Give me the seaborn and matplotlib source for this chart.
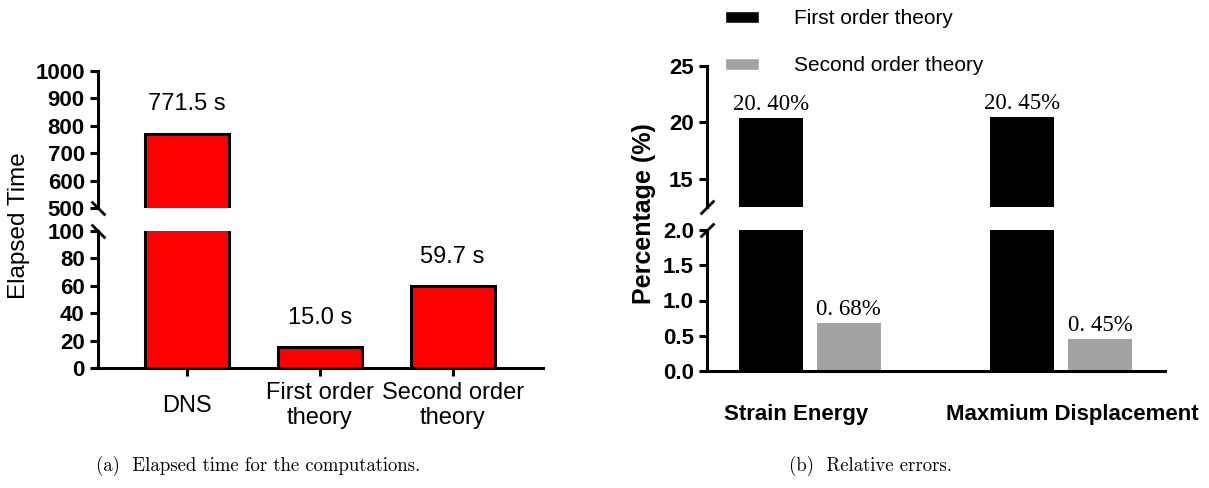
import numpy as np
import pandas as pd
import matplotlib
matplotlib.use("Agg")
import matplotlib.pyplot as plt
import seaborn as sns
from matplotlib.patches import Patch

# -------------------------------------------------------
# DATA
# -------------------------------------------------------

methods = ["DNS", "First order\ntheory", "Second order\ntheory"]
elapsed = [771.5, 15.0, 59.7]
elapsed_labels = ["771.5 s", "15.0 s", "59.7 s"]

metrics = ["Strain Energy", "Maxmium Displacement"]
theories = ["First order theory", "Second order theory"]
first_err = [20.40, 20.45]
second_err = [0.68, 0.45]
first_labels = ["20. 40%", "20. 45%"]
second_labels = ["0. 68%", "0. 45%"]

df_err = pd.DataFrame({
    "metric": metrics * 2,
    "theory": [theories[0]] * 2 + [theories[1]] * 2,
    "value": first_err + second_err,
})

# -------------------------------------------------------
# STYLE
# -------------------------------------------------------

sns.set_style("ticks")
plt.rcParams["font.family"] = ["Liberation Sans", "DejaVu Sans"]
plt.rcParams["axes.linewidth"] = 2.2
plt.rcParams["xtick.major.width"] = 2.2
plt.rcParams["ytick.major.width"] = 2.2
plt.rcParams["xtick.major.size"] = 6
plt.rcParams["ytick.major.size"] = 6
plt.rcParams["axes.edgecolor"] = "black"
plt.rcParams["text.color"] = "black"
plt.rcParams["axes.labelcolor"] = "black"
plt.rcParams["xtick.color"] = "black"
plt.rcParams["ytick.color"] = "black"

W, H = 1209, 488
fig = plt.figure(figsize=(W / 100, H / 100), dpi=100)


def box(x0, x1, ytop, ybot):
    return [x0 / W, 1 - ybot / H, (x1 - x0) / W, (ybot - ytop) / H]


ax_lt = fig.add_axes(box(98, 543, 71, 208))
ax_lb = fig.add_axes(box(98, 543, 231, 368))
ax_rt = fig.add_axes(box(707, 1165, 66, 207))
ax_rb = fig.add_axes(box(707, 1165, 230, 371))

gray = "#a3a3a6"

# -------------------------------------------------------
# (a) ELAPSED TIME
# -------------------------------------------------------

for ax in (ax_lt, ax_lb):
    sns.barplot(x=methods, y=elapsed, color="red", saturation=1, width=0.63,
                edgecolor="black", linewidth=2.2, ax=ax)
    ax.set_xlim(-0.67, 2.68)
    ax.spines[["top", "right"]].set_visible(False)

ax_lt.set_ylim(500, 1000)
ax_lt.set_yticks(np.arange(500, 1001, 100))
ax_lb.set_ylim(0, 100)
ax_lb.set_yticks(np.arange(0, 101, 20))
for ax in (ax_lt, ax_lb):
    for t in ax.get_yticklabels():
        t.set_fontweight("bold")
        t.set_fontsize(16)

ax_lt.spines["bottom"].set_visible(False)
ax_lt.tick_params(axis="x", bottom=False, labelbottom=False)
ax_lb.tick_params(axis="x", pad=21, labelsize=17)
for t in ax_lb.get_xticklabels():
    t.set_va("center")
    t.set_multialignment("center")

for i, bar in enumerate(ax_lb.patches):
    cx = bar.get_x() + bar.get_width() / 2
    target = ax_lt if elapsed[i] > 100 else ax_lb
    target.annotate(elapsed_labels[i], (cx, elapsed[i]), xytext=(0, 17),
                    textcoords="offset points", ha="center", va="baseline",
                    fontsize=17, annotation_clip=False)

# -------------------------------------------------------
# (b) RELATIVE ERRORS
# -------------------------------------------------------

for ax in (ax_rt, ax_rb):
    sns.barplot(data=df_err, x="metric", y="value", hue="theory",
                palette=["black", gray], saturation=1, width=0.62, gap=0.18,
                linewidth=0, legend=False, ax=ax)
    ax.set_xlim(-0.41, 1.414)
    ax.spines[["top", "right"]].set_visible(False)
    ax.set_xlabel("")
    ax.set_ylabel("")

ax_rt.set_ylim(12.5, 25)
ax_rt.set_yticks([15, 20, 25])
ax_rb.set_ylim(0, 2.0)
ax_rb.set_yticks(np.arange(0, 2.01, 0.5))
ax_rb.set_yticklabels([f"{v:.1f}" for v in np.arange(0, 2.01, 0.5)])
for ax in (ax_rt, ax_rb):
    for t in ax.get_yticklabels():
        t.set_fontweight("bold")
        t.set_fontsize(16)

ax_rt.spines["bottom"].set_visible(False)
ax_rt.tick_params(axis="x", bottom=False, labelbottom=False)
ax_rb.set_xticks([-0.056, 1.044], metrics)
ax_rb.tick_params(axis="x", length=0, pad=24)
for t in ax_rb.get_xticklabels():
    t.set_fontweight("bold")
    t.set_fontsize(16)

for cont, vals, labs in zip(ax_rb.containers, [first_err, second_err],
                            [first_labels, second_labels]):
    for bar, v, lab in zip(cont, vals, labs):
        cx = bar.get_x() + bar.get_width() / 2
        target = ax_rt if v > 2 else ax_rb
        target.annotate(lab, (cx, v), xytext=(0, 6), textcoords="offset points",
                        ha="center", va="baseline", fontsize=16.5,
                        family="Liberation Serif", annotation_clip=False)

# break marks on the y axes
for ax in (ax_lt, ax_lb):
    yy = 0 if ax is ax_lt else 1
    ax.plot([0], [yy], transform=ax.transAxes, marker=[(-1, 1), (1, -1)],
            markersize=10, mec="black", mew=2, clip_on=False)
for ax in (ax_rt, ax_rb):
    yy = 0 if ax is ax_rt else 1
    ax.plot([0], [yy], transform=ax.transAxes, marker=[(-1, -1), (1, 1)],
            markersize=10, mec="black", mew=2, clip_on=False)

# -------------------------------------------------------
# LABELS, LEGEND, CAPTIONS
# -------------------------------------------------------

fig.text(19 / W, 1 - 226 / H, "Elapsed Time", rotation=90, ha="center",
         va="center", fontsize=17.5)
fig.text(644 / W, 1 - 214 / H, "Percentage (%)", rotation=90, ha="center",
         va="center", fontsize=18, fontweight="bold")

handles = [Patch(facecolor="black"), Patch(facecolor=gray)]
fig.legend(handles, theories, loc="upper left",
           bbox_to_anchor=(721 / W, 1 - 5 / H),
           frameon=False, fontsize=15, handlelength=1.6, handleheight=0.48,
           handletextpad=1.7, labelspacing=1.35, borderpad=0.2, borderaxespad=0)

fig.text(258 / W, 1 - 466 / H, "(a)  Elapsed time for the computations.",
         ha="center", va="center", fontsize=13.5, family="cmr10")
fig.text(870 / W, 1 - 466 / H, "(b)  Relative errors.",
         ha="center", va="center", fontsize=13.5, family="cmr10")

fig.savefig("out.png", dpi=100)
